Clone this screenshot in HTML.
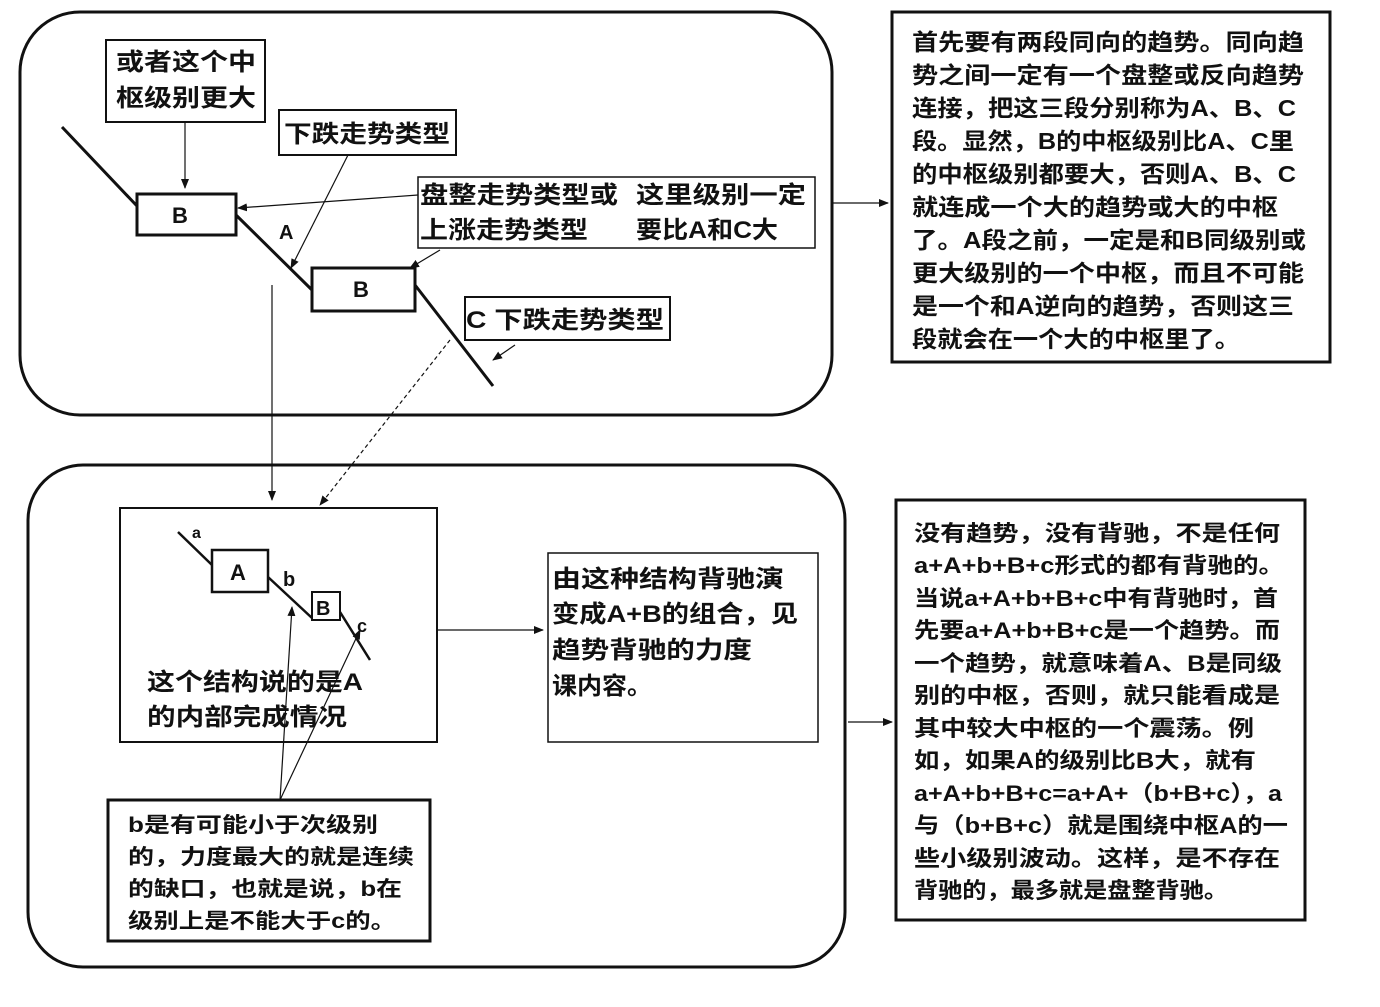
<!DOCTYPE html>
<html><head><meta charset="utf-8"><style>
html,body{margin:0;padding:0;background:#fff;}
svg text{font-family:"Liberation Sans","Noto Sans CJK SC","WenQuanYi Zen Hei",sans-serif;font-weight:bold;fill:#111;}
</style></head><body>
<svg width="1380" height="1002" viewBox="0 0 1380 1002" xmlns="http://www.w3.org/2000/svg">
<defs>
<marker id="ar" markerWidth="10" markerHeight="8" refX="9" refY="4" orient="auto" markerUnits="userSpaceOnUse"><path d="M0,0 L10,4 L0,8 Z" fill="#111"/></marker>
</defs>
<g fill="none" stroke="#111">
<rect x="20" y="12" width="812" height="403" rx="60" stroke-width="3"/>
<rect x="28" y="465" width="817" height="502" rx="55" stroke-width="3"/>
<rect x="892" y="12" width="438" height="350" stroke-width="3"/>
<rect x="896" y="500" width="409" height="420" stroke-width="3"/>
<rect x="106" y="40" width="159" height="82" stroke-width="2"/>
<rect x="279" y="110" width="177" height="45" stroke-width="2"/>
<rect x="418" y="177" width="397" height="71" stroke-width="1.5"/>
<rect x="465" y="297" width="205" height="43" stroke-width="2"/>
<rect x="137" y="194" width="99" height="41" stroke-width="3"/>
<rect x="312" y="268" width="103" height="43" stroke-width="3"/>
<path d="M62,127 L137,206 M236,215 L312,290 M415,285 L493,386" stroke-width="3"/>
<rect x="120" y="508" width="317" height="234" stroke-width="2"/>
<rect x="212" y="550" width="56" height="42" stroke-width="2.5"/>
<rect x="312" y="592" width="28" height="28" stroke-width="2"/>
<path d="M178,532 L212,565 M268,577 L312,618 M340,612 L370,660" stroke-width="2.5"/>
<rect x="548" y="553" width="270" height="189" stroke-width="1.5"/>
<rect x="108" y="800" width="322" height="141" stroke-width="3"/>
<g stroke-width="1.2" marker-end="url(#ar)">
<path d="M185,122 L185,188"/>
<path d="M348,155 L291,268"/>
<path d="M418,195 L238,208"/>
<path d="M440,250 L410,268"/>
<path d="M515,345 L493,360"/>
<path d="M272,285 L272,500"/>
<path d="M450,340 L320,505" stroke-dasharray="4,3"/>
<path d="M832,203 L888,203"/>
<path d="M437,630 L543,630"/>
<path d="M280,800 L292,607"/>
<path d="M280,800 L360,630"/>
<path d="M848,722 L892,722"/>
</g>
</g>
<g font-size="24">
<text x="116" y="70" textLength="140" lengthAdjust="spacingAndGlyphs">或者这个中</text>
<text x="116" y="106" textLength="140" lengthAdjust="spacingAndGlyphs">枢级别更大</text>
<text x="284" y="142" textLength="166" lengthAdjust="spacingAndGlyphs">下跌走势类型</text>
<text x="420" y="203" textLength="198" lengthAdjust="spacingAndGlyphs">盘整走势类型或</text>
<text x="636" y="203" textLength="170" lengthAdjust="spacingAndGlyphs">这里级别一定</text>
<text x="420" y="238" textLength="168" lengthAdjust="spacingAndGlyphs">上涨走势类型</text>
<text x="636" y="238" textLength="142" lengthAdjust="spacingAndGlyphs">要比A和C大</text>
<text x="466" y="328" textLength="198" lengthAdjust="spacingAndGlyphs">C 下跌走势类型</text>
<text x="172" y="223" font-size="22">B</text>
<text x="353" y="297" font-size="22">B</text>
<text x="279" y="239" font-size="20">A</text>
<text x="230" y="580" font-size="22">A</text>
<text x="316" y="615" font-size="20" font-family="Liberation Serif">B</text>
<text x="192" y="538" font-size="16">a</text>
<text x="283" y="586" font-size="20">b</text>
<text x="357" y="632" font-size="18">c</text>
<text x="147" y="690" textLength="216" lengthAdjust="spacingAndGlyphs">这个结构说的是A</text>
<text x="147" y="725" textLength="200" lengthAdjust="spacingAndGlyphs">的内部完成情况</text>
<text x="552" y="587" textLength="232" lengthAdjust="spacingAndGlyphs">由这种结构背驰演</text>
<text x="552" y="622" textLength="246" lengthAdjust="spacingAndGlyphs">变成A+B的组合，见</text>
<text x="552" y="658" textLength="200" lengthAdjust="spacingAndGlyphs">趋势背驰的力度</text>
<text x="552" y="694" textLength="100" lengthAdjust="spacingAndGlyphs">课内容。</text>
</g>
<g font-size="21">
<text x="128" y="832" textLength="250" lengthAdjust="spacingAndGlyphs">b是有可能小于次级别</text>
<text x="128" y="864" textLength="286" lengthAdjust="spacingAndGlyphs">的，力度最大的就是连续</text>
<text x="128" y="896" textLength="274" lengthAdjust="spacingAndGlyphs">的缺口，也就是说，b在</text>
<text x="128" y="928" textLength="268" lengthAdjust="spacingAndGlyphs">级别上是不能大于c的。</text>
</g>
<g font-size="23">
<text x="912" y="50" textLength="392" lengthAdjust="spacingAndGlyphs">首先要有两段同向的趋势。同向趋</text>
<text x="912" y="83" textLength="392" lengthAdjust="spacingAndGlyphs">势之间一定有一个盘整或反向趋势</text>
<text x="912" y="116" textLength="384" lengthAdjust="spacingAndGlyphs">连接，把这三段分别称为A、B、C</text>
<text x="912" y="149" textLength="382" lengthAdjust="spacingAndGlyphs">段。显然，B的中枢级别比A、C里</text>
<text x="912" y="182" textLength="384" lengthAdjust="spacingAndGlyphs">的中枢级别都要大，否则A、B、C</text>
<text x="912" y="215" textLength="366" lengthAdjust="spacingAndGlyphs">就连成一个大的趋势或大的中枢</text>
<text x="912" y="248" textLength="394" lengthAdjust="spacingAndGlyphs">了。A段之前，一定是和B同级别或</text>
<text x="912" y="281" textLength="392" lengthAdjust="spacingAndGlyphs">更大级别的一个中枢，而且不可能</text>
<text x="912" y="314" textLength="382" lengthAdjust="spacingAndGlyphs">是一个和A逆向的趋势，否则这三</text>
<text x="912" y="347" textLength="328" lengthAdjust="spacingAndGlyphs">段就会在一个大的中枢里了。</text>
</g>
<g font-size="22">
<text x="914" y="541" textLength="366" lengthAdjust="spacingAndGlyphs">没有趋势，没有背驰，不是任何</text>
<text x="914" y="573" textLength="370" lengthAdjust="spacingAndGlyphs">a+A+b+B+c形式的都有背驰的。</text>
<text x="914" y="606" textLength="364" lengthAdjust="spacingAndGlyphs">当说a+A+b+B+c中有背驰时，首</text>
<text x="914" y="638" textLength="366" lengthAdjust="spacingAndGlyphs">先要a+A+b+B+c是一个趋势。而</text>
<text x="914" y="671" textLength="368" lengthAdjust="spacingAndGlyphs">一个趋势，就意味着A、B是同级</text>
<text x="914" y="703" textLength="366" lengthAdjust="spacingAndGlyphs">别的中枢，否则，就只能看成是</text>
<text x="914" y="736" textLength="340" lengthAdjust="spacingAndGlyphs">其中较大中枢的一个震荡。例</text>
<text x="914" y="768" textLength="342" lengthAdjust="spacingAndGlyphs">如，如果A的级别比B大，就有</text>
<text x="914" y="801" textLength="368" lengthAdjust="spacingAndGlyphs">a+A+b+B+c=a+A+（b+B+c），a</text>
<text x="914" y="833" textLength="374" lengthAdjust="spacingAndGlyphs">与（b+B+c）就是围绕中枢A的一</text>
<text x="914" y="866" textLength="366" lengthAdjust="spacingAndGlyphs">些小级别波动。这样，是不存在</text>
<text x="914" y="898" textLength="314" lengthAdjust="spacingAndGlyphs">背驰的，最多就是盘整背驰。</text>
</g>
</svg>
</body></html>
